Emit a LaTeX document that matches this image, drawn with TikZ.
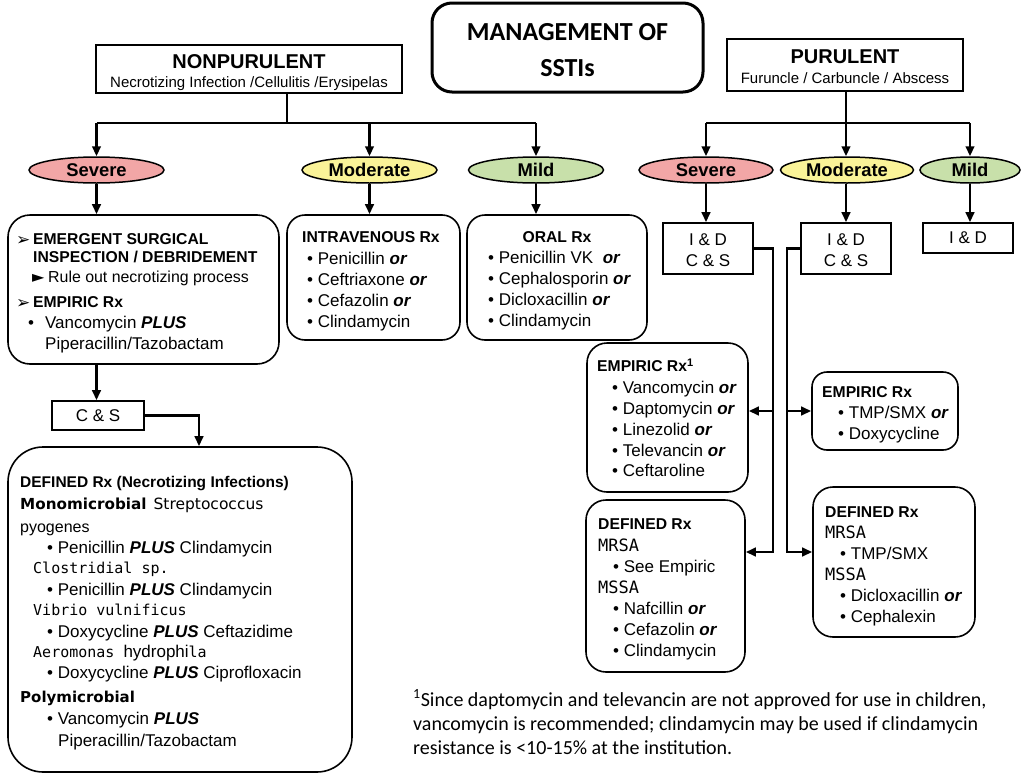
\documentclass[tikz,border=0pt]{standalone}
\usepackage{fontspec}
\setmainfont{Liberation Sans}
\newfontfamily\calfont{Carlito}
\newfontfamily\dvsfont{DejaVu Sans}
\newfontfamily\monofont{DejaVu Sans Mono}
\usetikzlibrary{shapes.geometric,arrows.meta}
\newcommand\myfs[1]{\fontsize{#1}{#1}\selectfont}
\newcommand\myor{\textbf{\textit{or}}}
\newcommand\myplus{\textbf{\textit{PLUS}}}
\definecolor{sevcol}{RGB}{242,166,166}
\definecolor{modcol}{RGB}{250,243,152}
\definecolor{mildcol}{RGB}{200,224,170}
\tikzset{
  ln/.style={anchor=base west, inner sep=0pt, font=\myfs{17}},
  hd/.style={anchor=base west, inner sep=0pt, font=\myfs{15.7}\bfseries},
  mn/.style={anchor=base west, inner sep=0pt, font=\monofont\myfs{17}},
  fn/.style={anchor=base west, inner sep=0pt, font=\calfont\myfs{20}},
  rbox/.style={draw, line width=1.6pt, rounded corners=18pt, inner sep=0pt},
  sbox/.style={draw, line width=1.6pt, inner sep=0pt},
  ell/.style={ellipse, draw, line width=1.5pt, inner sep=0pt, minimum height=26pt, font=\myfs{18.4}\bfseries},
  conn/.style={line width=2.5pt},
  arr/.style={line width=2.5pt, -{Triangle[length=10pt,width=8.5pt]}},
}
\begin{document}
\begin{tikzpicture}[x=1pt,y=-1pt]
\path[fill=white] (0,0) rectangle (1021,774);
\useasboundingbox (0,0) rectangle (1021,774);

% ---------- header boxes ----------
\node[rbox, line width=3pt, rounded corners=20pt, minimum width=271pt, minimum height=89pt] (title) at (567.5,47.5) {};
\node[anchor=base, inner sep=0pt, font=\calfont\bfseries\myfs{26}] (ti1) at (567.5,40.5) {MANAGEMENT OF};
\node[anchor=base, inner sep=0pt, font=\calfont\bfseries\myfs{26}] (ti2) at (567.5,76.5) {SSTIs};

\node[sbox, minimum width=306pt, minimum height=48pt] (np) at (249,69) {};
\node[anchor=base, inner sep=0pt, font=\myfs{20}\bfseries] (np1) at (249,68) {NONPURULENT};
\node[anchor=base, inner sep=0pt, font=\myfs{15}] (np2) at (249,87.5) {Necrotizing Infection /Cellulitis /Erysipelas};

\node[sbox, minimum width=236pt, minimum height=52pt] (pu) at (845,65) {};
\node[anchor=base, inner sep=0pt, font=\myfs{20}\bfseries] (pu1) at (845,63) {PURULENT};
\node[anchor=base, inner sep=0pt, font=\myfs{15}] (pu2) at (845,83.5) {Furuncle / Carbuncle / Abscess};

% ---------- ellipses ----------
\node[ell, fill=sevcol, minimum width=135pt] (e1) at (96.5,170) {Severe};
\node[ell, fill=modcol, minimum width=135pt] (e2) at (369.5,170) {Moderate};
\node[ell, fill=mildcol, minimum width=135pt] (e3) at (536,170) {Mild};
\node[ell, fill=sevcol, minimum width=134pt] (e4) at (706,170) {Severe};
\node[ell, fill=modcol, minimum width=133pt] (e5) at (847,170) {Moderate};
\node[ell, fill=mildcol, minimum width=100pt] (e6) at (970,170) {Mild};

% ---------- nonpurulent boxes ----------
\node[rbox, rounded corners=22pt, minimum width=271pt, minimum height=149pt] (sevbox) at (143.5,289.5) {};
\node[inner sep=0pt, anchor=base west, font=\dvsfont\myfs{17}] (s0a) at (16,245) {➢};
\node[hd] (s1) at (33,244.5) {EMERGENT SURGICAL};
\node[hd] (s2) at (33,262.5) {INSPECTION / DEBRIDEMENT};
\node[inner sep=0pt, anchor=base west, font=\dvsfont\myfs{16}] (s0b) at (32,282.7) {►};
\node[ln, font=\myfs{15.9}] (s3) at (48,282.7) {Rule out necrotizing process};
\node[inner sep=0pt, anchor=base west, font=\dvsfont\myfs{17}] (s0c) at (16,308) {➢};
\node[hd] (s4) at (33,307.5) {EMPIRIC Rx};
\node[ln] (s5) at (28,328.2) {•\hspace{11pt}Vancomycin \myplus};
\node[ln] (s6) at (45,349.2) {Piperacillin/Tazobactam};

\node[rbox, minimum width=173pt, minimum height=125pt] (ivbox) at (373.5,277.5) {};
\node[hd] (iv0) at (302,242.5) {INTRAVENOUS Rx};
\node[ln] (iv1) at (307,264) {• Penicillin \myor};
\node[ln] (iv2) at (307,285) {• Ceftriaxone \myor};
\node[ln] (iv3) at (307,306) {• Cefazolin \myor};
\node[ln] (iv4) at (307,327) {• Clindamycin};

\node[rbox, minimum width=180pt, minimum height=125pt] (oralbox) at (557,277.5) {};
\node[hd, anchor=base] (or0) at (557,242.5) {ORAL Rx};
\node[ln] (or1) at (488,263) {• Penicillin VK\ \ \myor};
\node[ln] (or2) at (488,284) {• Cephalosporin \myor};
\node[ln] (or3) at (488,305) {• Dicloxacillin \myor};
\node[ln] (or4) at (488,326) {• Clindamycin};

\node[sbox, minimum width=92pt, minimum height=29pt, font=\myfs{17}] (csbox) at (98,415.5) {C \& S};

\node[rbox, rounded corners=35pt, minimum width=344pt, minimum height=325pt] (defbox) at (180,609.5) {};
\node[hd, font=\myfs{15.5}\bfseries] (d1) at (20,487.5) {DEFINED Rx (Necrotizing Infections)};
\node[ln] (d2) at (20,509) {{\dvsfont\bfseries\myfs{15.2}Monomicrobial}\hspace{7pt}{\dvsfont\myfs{15.5}Streptococcus}};
\node[ln, font=\myfs{16}] (d3) at (20,532) {pyogenes};
\node[ln] (d4) at (47,553) {• Penicillin \myplus\ Clindamycin};
\node[mn, font=\monofont\myfs{15}] (d5) at (33,573.5) {Clostridial sp.};
\node[ln] (d6) at (47,595) {• Penicillin \myplus\ Clindamycin};
\node[mn, font=\monofont\myfs{15}] (d7) at (33,615.5) {Vibrio vulnificus};
\node[ln] (d8) at (47,637) {• Doxycycline \myplus\ Ceftazidime};
\node[mn, font=\monofont\myfs{15}] (d9) at (33,657.5) {Aeromonas {\rmfamily\myfs{17}hydrophi}la};
\node[ln] (d10) at (47,678) {• Doxycycline \myplus\ Ciprofloxacin};
\node[ln, font=\dvsfont\bfseries\myfs{15}] (d11) at (20,702.5) {Polymicrobial};
\node[ln] (d12) at (47,724) {• Vancomycin \myplus};
\node[ln] (d13) at (58,746) {Piperacillin/Tazobactam};

% ---------- purulent boxes ----------
\node[sbox, minimum width=90pt, minimum height=51pt] (ids) at (708,248.5) {};
\node[ln, anchor=base] (ids1) at (708,245) {I \& D};
\node[ln, anchor=base] (ids2) at (708,266) {C \& S};
\node[sbox, minimum width=90pt, minimum height=51pt] (idm) at (846,248.5) {};
\node[ln, anchor=base] (idm1) at (846,245) {I \& D};
\node[ln, anchor=base] (idm2) at (846,266) {C \& S};
\node[sbox, minimum width=90pt, minimum height=30pt, font=\myfs{17}] (idl) at (968,238) {I \& D};

\node[rbox, rounded corners=20pt, minimum width=161pt, minimum height=149pt] (emp1) at (667.5,417.5) {};
\node[hd] (p1) at (597,371.5) {EMPIRIC Rx\textsuperscript{1}};
\node[ln] (p2) at (612,393) {• Vancomycin \myor};
\node[ln] (p3) at (612,414) {• Daptomycin \myor};
\node[ln] (p4) at (612,435) {• Linezolid \myor};
\node[ln] (p5) at (612,456) {• Televancin \myor};
\node[ln] (p6) at (612,476) {• Ceftaroline};

\node[rbox, rounded corners=20pt, minimum width=159pt, minimum height=172pt] (def1) at (665.5,586) {};
\node[hd] (q1) at (598,529.5) {DEFINED Rx};
\node[mn] (q2) at (598,551) {MRSA};
\node[ln] (q3) at (613,572) {• See Empiric};
\node[mn] (q4) at (598,593) {MSSA};
\node[ln] (q5) at (613,614) {• Nafcillin \myor};
\node[ln] (q6) at (613,635) {• Cefazolin \myor};
\node[ln] (q7) at (613,656) {• Clindamycin};

\node[rbox, rounded corners=15pt, minimum width=146pt, minimum height=78pt] (emp2) at (885,411) {};
\node[hd] (r1) at (822,397.5) {EMPIRIC Rx};
\node[ln] (r2) at (838,418) {• TMP/SMX \myor};
\node[ln] (r3) at (838,439) {• Doxycycline};

\node[rbox, rounded corners=20pt, minimum width=162pt, minimum height=150pt] (def2) at (894,562) {};
\node[hd] (u1) at (825,517.5) {DEFINED Rx};
\node[mn] (u2) at (825,538) {MRSA};
\node[ln] (u3) at (840,559) {• TMP/SMX};
\node[mn] (u4) at (825,580) {MSSA};
\node[ln] (u5) at (840,601) {• Dicloxacillin \myor};
\node[ln] (u6) at (840,622) {• Cephalexin};

% ---------- footnote ----------
\node[fn] (f1) at (413,706) {\textsuperscript{1}Since daptomycin and televancin are not approved for use in children,};
\node[fn] (f2) at (413,730) {vancomycin is recommended; clindamycin may be used if clindamycin};
\node[fn] (f3) at (413,754) {resistance is <10-15\% at the institution.};

% ---------- connectors ----------
\coordinate (jn) at (287,123);
\coordinate (jp) at (846,123);
\draw[conn] (np.south -| jn) -- (jn);
\draw[conn] (jn -| e1) -- (jn -| e3);
\draw[arr] (jn -| e1) -- (e1.north);
\draw[arr] (jn -| e2) -- (e2.north);
\draw[arr] (jn -| e3) -- (e3.north);
\draw[conn] (pu.south -| jp) -- (jp);
\draw[conn] (jp -| e4) -- (jp -| e6);
\draw[arr] (jp -| e4) -- (e4.north);
\draw[arr] (jp) -- (jp |- e5.north);
\draw[arr] (jp -| e6) -- (e6.north);

\draw[arr] (e1.south) -- (e1.south |- sevbox.north);
\draw[arr] (e2.south) -- (e2.south |- ivbox.north);
\draw[arr] (e3.south) -- (e3.south |- oralbox.north);
\draw[arr] (e4.south) -- (e4.south |- ids.north);
\draw[arr] (jp |- e5.south) -- (jp |- idm.north);
\draw[arr] (e6.south) -- (e6.south |- idl.north);

\draw[arr] (sevbox.south -| e1) -- (csbox.north -| e1);
\coordinate (cd) at (199,0);
\draw[arr] (csbox.east) -| (cd |- defbox.north);

\coordinate (vl) at (773,0);
\coordinate (vr) at (787,0);
\coordinate (ya) at (0,411);
\coordinate (yb) at (0,552);
\draw[arr] (ids.east) -| (vl |- yb) -- (def1.east |- yb);
\draw[arr] (vl |- ya) -- (emp1.east |- ya);
\draw[arr] (idm.west) -| (vr |- yb) -- (def2.west |- yb);
\draw[arr] (vr |- ya) -- (emp2.west |- ya);
\end{tikzpicture}
\end{document}
